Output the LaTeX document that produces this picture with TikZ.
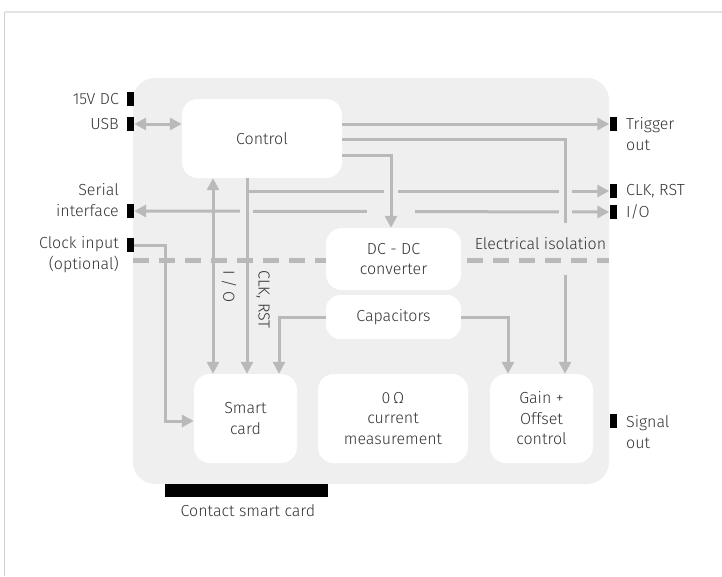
\documentclass[tikz,border=0pt]{standalone}
\usepackage{fontspec}
\IfFontExistsTF{Fira Sans Light}{\setmainfont{Fira Sans Light}}{\setmainfont{Fira Sans}}
\usetikzlibrary{arrows.meta}
\definecolor{panelc}{HTML}{EFEFEF}
\definecolor{linec}{HTML}{B9B9B9}
\definecolor{textc}{HTML}{333333}
\definecolor{framec}{HTML}{E3E3E3}
\definecolor{framel}{HTML}{D0D0D0}
\tikzset{
  box/.style={fill=white, rounded corners=16pt, inner sep=0pt, text=textc, align=center,
    font=\fontsize{16}{20.5}\selectfont},
  conn/.style={draw=linec, line width=3pt},
  tipr/.style={-{Triangle[length=12pt,width=12pt]}},
  tipb/.style={{Triangle[length=12pt,width=12pt]}-{Triangle[length=12pt,width=12pt]}},
  term/.style={fill=black, minimum width=7pt, minimum height=14pt, inner sep=0pt},
  lbl/.style={text=textc, font=\fontsize{16}{20.5}\selectfont, inner sep=0pt},
  iso/.style={draw=linec, line width=5pt, dash pattern=on 16pt off 10pt},
  gap/.style={fill=panelc}
}
\begin{document}
\begin{tikzpicture}[x=1pt,y=-1pt]
\path[use as bounding box] (0,0) rectangle (722,576);
% frame
\draw[framec, line width=2pt] (4.5,11.5) -- (722,11.5);
\draw[framel, line width=1.5pt] (4.5,11.5) -- (4.5,576);
% panel
\fill[panelc, rounded corners=22pt] (133,78) rectangle (609,484);
% boxes
\node[box, minimum width=160pt, minimum height=79pt] (control) at (262,138.5) {Control};
\node[box, minimum width=135pt, minimum height=62pt] (dcdc) at (393.5,259) {DC - DC\\converter};
\node[box, minimum width=135pt, minimum height=44pt, rounded corners=14pt] (cap) at (393.5,317) {Capacitors};
\node[box, minimum width=103pt, minimum height=89pt] (smart) at (245.5,418.5) {Smart\\card};
\node[box, minimum width=150pt, minimum height=89pt] (ohm) at (393,418.5) {0\,Ω\\current\\measurement};
\node[box, minimum width=103pt, minimum height=89pt] (gain) at (541.5,418.5) {Gain +\\Offset\\control};
% terminals
\node[term] (dcT) at (130.5,99) {};
\node[term] (usbT) at (130.5,124) {};
\node[term] (serT) at (130.5,211) {};
\node[term] (clkinT) at (130.5,245) {};
\node[term] (trigT) at (613,124) {};
\node[term] (clkT) at (613,191) {};
\node[term] (ioT) at (613,212) {};
\node[term] (sigT) at (613.5,420.5) {};
\node[fill=black, minimum width=163pt, minimum height=13pt, inner sep=0pt] (bar) at (246.5,490.5) {};
% labels
\node[lbl, anchor=east] at (119,99) {15V DC};
\node[lbl, anchor=east] at (119,124) {USB};
\node[lbl, anchor=east, align=right] at (119,200) {Serial\\interface};
\node[lbl, anchor=east, align=right] at (119,254.5) {Clock input\\(optional)};
\node[lbl, anchor=west, align=left] at (626,134) {Trigger\\out};
\node[lbl, anchor=west] at (626,191) {CLK, RST};
\node[lbl, anchor=west] at (626,212) {I/O};
\node[lbl, anchor=west, align=left] at (626,432) {Signal\\out};
\node[lbl] at (248,511) {Contact smart card};
% coordinates
\coordinate (gv) at (565,139);
\coordinate (dv) at (391,155);
\coordinate (cv) at (247,191);
\coordinate (iv) at (213,178);
\coordinate (ckv) at (165,421);
\coordinate (cl) at (279,317);
\coordinate (cr) at (508,317);
% horizontal connectors
\draw[conn, tipb] (usbT.east) -- (control.west |- usbT);
\draw[conn, tipr] (control.east |- trigT) -- (trigT.west);
\draw[conn, tipr] (cv) -- (clkT.west);
\draw[conn, tipb] (serT.east) -- (ioT.west);
% gaps in horizontal lines
\fill[gap] (384,185) rectangle (398,197);
\fill[gap] (559,185) rectangle (572,197);
\fill[gap] (240,205) rectangle (253,217);
\fill[gap] (367,205) rectangle (415,217);
\fill[gap] (559,205) rectangle (572,217);
% vertical / bent connectors
\draw[conn, tipr] (control.east |- gv) -- (gv) -- (gv |- gain.north);
\draw[conn, tipr] (control.east |- dv) -- (dv) -- (dv |- dcdc.north);
\draw[conn, tipr] (cv |- control.south) -- (cv |- smart.north);
\draw[conn, tipb] (iv |- control.south) -- (iv |- smart.north);
\draw[conn, tipr] (clkinT.east) -- (ckv |- clkinT) -- (ckv) -- (smart.west |- ckv);
\draw[conn, tipr] (cap.west) -- (cl) -- (cl |- smart.north);
\draw[conn, tipr] (cap.east) -- (cr) -- (cr |- gain.north);
% isolation
\fill[gap] (557,223) rectangle (573,275);
\draw[iso] (133,260) -- (dcdc.west |- 0,260);
\draw[iso] (467,260) -- (609,260);
\node[lbl] (isol) at (540.5,244) {Electrical isolation};
% rotated labels
\node[lbl, rotate=-90, anchor=west] at (229,270) {I / O};
\node[lbl, rotate=-90, anchor=west] at (263,270) {CLK, RST};
\end{tikzpicture}
\end{document}
